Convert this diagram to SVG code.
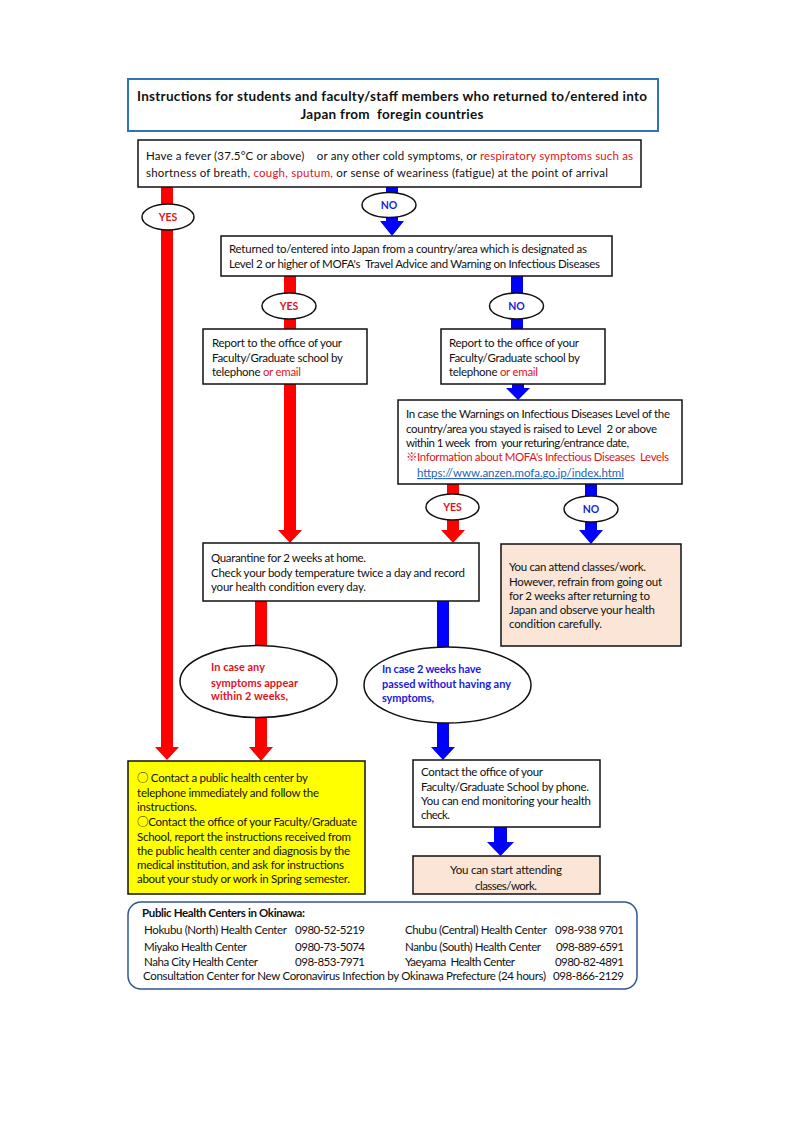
<svg xmlns="http://www.w3.org/2000/svg" width="800" height="1132" viewBox="0 0 800 1132">
<style>
text{font-family:Lato,"Noto Sans CJK JP",sans-serif;font-size:11.5px;fill:#111;white-space:pre}
.b{stroke:#111;stroke-width:1.5;fill:#fff}
.t{font-weight:bold;font-size:13.5px}
.r{fill:#E3131B}
.u{fill:#1A1AE0}
.lbl{font-weight:bold;font-size:10.5px;text-anchor:middle}
.eb{font-weight:bold;font-size:11px}
.ell{fill:#fff;stroke:#111;stroke-width:1.5}
.ar{fill:#FF0000}
.ab{fill:#0000FF}
.link{fill:#2462B8;text-decoration:underline}
.cjk{font-family:"Noto Sans CJK JP",sans-serif}
</style>
<rect width="800" height="1132" fill="#fff"/>

<g id="connectors">
<polygon class="ar" points="161,187 173,187 173,747 179,747 167,760 155,747 161,747"/>
<polygon class="ab" points="386,187 398,187 398,221 404,221 392,236 380,221 386,221"/>
<rect class="ar" x="284" y="276" width="12" height="53"/>
<rect class="ab" x="511" y="276" width="12" height="53"/>
<polygon class="ar" points="284,384 296,384 296,530 302,530 290,543 278,530 284,530"/>
<polygon class="ab" points="512,384 524,384 524,388 530,388 518,400 506,388 512,388"/>
<polygon class="ar" points="447,484 459,484 459,530 465,530 453,543 441,530 447,530"/>
<polygon class="ab" points="585,484 597,484 597,530 603,530 591,544 579,530 585,530"/>
<polygon class="ar" points="255,601 267,601 267,747 273,747 261,761 249,747 255,747"/>
<polygon class="ab" points="437,601 449,601 449,747 455,747 443,760 431,747 437,747"/>
<polygon class="ab" points="494,827 507,827 507,842 514,842 500.5,856 487,842 494,842"/>
</g>

<g id="title">
<rect x="128" y="79" width="530" height="52" fill="#fff" stroke="#2E75B6" stroke-width="2"/>
<text class="t" x="392" y="101" text-anchor="middle" textLength="510">Instructions for students and faculty/staff members who returned to/entered into</text>
<text class="t" x="392" y="119" text-anchor="middle" textLength="183">Japan from  foregin countries</text>
</g>

<g id="q1">
<rect class="b" x="138" y="140" width="503" height="47"/>
<text x="146" y="160" textLength="487">Have a fever (37.5°C or above)    or any other cold symptoms, or <tspan class="r">respiratory symptoms such as</tspan></text>
<text x="146" y="177" textLength="462">shortness of breath, <tspan class="r">cough, sputum,</tspan> or sense of weariness (fatigue) at the point of arrival</text>
</g>

<g id="yes1"><ellipse class="ell" cx="168" cy="217" rx="26" ry="13"/><text class="lbl r" x="168" y="221">YES</text></g>
<g id="no1"><ellipse class="ell" cx="389" cy="205" rx="27" ry="12.5"/><text class="lbl u" x="389" y="209">NO</text></g>

<g id="q2">
<rect class="b" x="221" y="236" width="391" height="40"/>
<text x="229" y="253" textLength="358">Returned to/entered into Japan from a country/area which is designated as</text>
<text x="229" y="268" textLength="371">Level 2 or higher of MOFA's  Travel Advice and Warning on Infectious Diseases</text>
</g>

<g id="yes2"><ellipse class="ell" cx="289" cy="306" rx="27" ry="13"/><text class="lbl r" x="289" y="310">YES</text></g>
<g id="no2"><ellipse class="ell" cx="516.5" cy="306" rx="27" ry="13"/><text class="lbl u" x="516.5" y="310">NO</text></g>

<g id="report-left">
<rect class="b" x="203" y="329" width="164" height="55"/>
<text x="212" y="347" textLength="130">Report to the office of your</text>
<text x="212" y="362" textLength="131">Faculty/Graduate school by</text>
<text x="212" y="376" textLength="89">telephone <tspan class="r">or email</tspan></text>
</g>

<g id="report-right">
<rect class="b" x="441" y="329" width="164" height="55"/>
<text x="449" y="347" textLength="130">Report to the office of your</text>
<text x="449" y="362" textLength="131">Faculty/Graduate school by</text>
<text x="449" y="376" textLength="89">telephone <tspan class="r">or email</tspan></text>
</g>

<g id="q3">
<rect class="b" x="398" y="400" width="284" height="84"/>
<text x="406" y="418" textLength="264">In case the Warnings on Infectious Diseases Level of the</text>
<text x="406" y="433" textLength="251">country/area you stayed is raised to Level  2 or above</text>
<text x="406" y="447" textLength="223">within 1 week  from  your returing/entrance date,</text>
<text class="r" x="406" y="461" textLength="263">※Information about MOFA's Infectious Diseases  Levels</text>
<text class="link" x="417" y="477" textLength="207">https://www.anzen.mofa.go.jp/index.html</text>
</g>

<g id="yes3"><ellipse class="ell" cx="452.5" cy="507" rx="26.5" ry="13"/><text class="lbl r" x="452.5" y="511">YES</text></g>
<g id="no3"><ellipse class="ell" cx="591" cy="509" rx="27" ry="13"/><text class="lbl u" x="591" y="513">NO</text></g>

<g id="quarantine">
<rect class="b" x="203" y="543" width="276" height="58"/>
<text x="211" y="562" textLength="155">Quarantine for 2 weeks at home.</text>
<text x="211" y="577" textLength="254">Check your body temperature twice a day and record</text>
<text x="211" y="591" textLength="155">your health condition every day.</text>
</g>

<g id="attend">
<rect x="501" y="544" width="180" height="102" fill="#FBE5D6" stroke="#111" stroke-width="1.5"/>
<text x="509" y="571" textLength="137">You can attend classes/work.</text>
<text x="509" y="586" textLength="153">However, refrain from going out</text>
<text x="509" y="600" textLength="141">for 2 weeks after returning to</text>
<text x="509" y="614" textLength="146">Japan and observe your health</text>
<text x="509" y="628" textLength="93">condition carefully.</text>
</g>

<g id="symptoms">
<ellipse class="ell" cx="258.5" cy="681.5" rx="78.5" ry="36"/>
<text class="eb r" x="211" y="671" textLength="54">In case any</text>
<text class="eb r" x="211" y="687" textLength="87">symptoms appear</text>
<text class="eb r" x="211" y="700" textLength="77">within 2 weeks,</text>
</g>

<g id="no-symptoms">
<ellipse class="ell" cx="447.5" cy="685" rx="83.5" ry="38"/>
<text class="eb u" x="382" y="673" textLength="99">In case 2 weeks have</text>
<text class="eb u" x="382" y="688" textLength="129">passed without having any</text>
<text class="eb u" x="382" y="702" textLength="52">symptoms,</text>
</g>

<g id="contact-health">
<rect x="128" y="761" width="237" height="133" fill="#FFFF00" stroke="#111" stroke-width="1.5"/>
<text x="137" y="782" textLength="171"><tspan class="cjk">○</tspan> Contact a public health center by</text>
<text x="137" y="797" textLength="182">telephone immediately and follow the</text>
<text x="137" y="811" textLength="60">instructions.</text>
<text x="137" y="826" textLength="220"><tspan class="cjk">○</tspan>Contact the office of your Faculty/Graduate</text>
<text x="137" y="841" textLength="214">School, report the instructions received from</text>
<text x="137" y="855" textLength="213">the public health center and diagnosis by the</text>
<text x="137" y="869" textLength="207">medical institution, and ask for instructions</text>
<text x="137" y="883" textLength="213">about your study or work in Spring semester.</text>
</g>

<g id="contact-office">
<rect class="b" x="413" y="760" width="187" height="67"/>
<text x="421" y="776" textLength="122">Contact the office of your</text>
<text x="421" y="791" textLength="168">Faculty/Graduate School by phone.</text>
<text x="421" y="805" textLength="170">You can end monitoring your health</text>
<text x="421" y="819" textLength="29">check.</text>
</g>

<g id="start">
<rect x="413" y="856" width="187" height="38" fill="#FBE5D6" stroke="#111" stroke-width="1.5"/>
<text x="506" y="874" text-anchor="middle" textLength="112">You can start attending</text>
<text x="506" y="890" text-anchor="middle" textLength="62">classes/work.</text>
</g>

<g id="health-centers">
<rect x="128" y="902" width="509" height="87" rx="13" ry="13" fill="#fff" stroke="#2F5597" stroke-width="1.5"/>
<text x="142" y="917" font-weight="bold" textLength="163">Public Health Centers in Okinawa:</text>
<text x="144" y="934" textLength="143">Hokubu (North) Health Center</text>
<text x="295" y="934" textLength="70">0980-52-5219</text>
<text x="405" y="934" textLength="142">Chubu (Central) Health Center</text>
<text x="555" y="934" textLength="69">098-938 9701</text>
<text x="144" y="951" textLength="103">Miyako Health Center</text>
<text x="295" y="951" textLength="70">0980-73-5074</text>
<text x="405" y="951" textLength="136">Nanbu (South) Health Center</text>
<text x="556" y="951" textLength="68">098-889-6591</text>
<text x="144" y="966" textLength="114">Naha City Health Center</text>
<text x="295" y="966" textLength="70">098-853-7971</text>
<text x="405" y="966" textLength="110">Yaeyama  Health Center</text>
<text x="555" y="966" textLength="69">0980-82-4891</text>
<text x="143" y="980" textLength="403">Consultation Center for New Coronavirus Infection by Okinawa Prefecture (24 hours)</text>
<text x="553" y="980" textLength="71">098-866-2129</text>
</g>
</svg>
